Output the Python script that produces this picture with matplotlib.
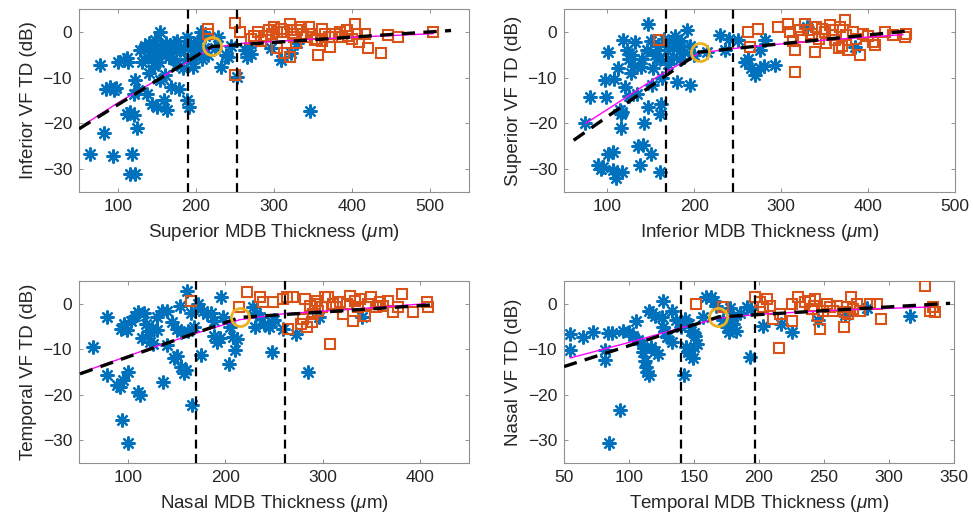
# plot.py
# Four scatter panels: VF total deviation against MDB thickness per sector.

import matplotlib
matplotlib.use('Agg')
import matplotlib.pyplot as plt

plt.rcParams['font.family'] = ['Liberation Sans', 'DejaVu Sans']
plt.rcParams['mathtext.fontset'] = 'custom'
plt.rcParams['mathtext.it'] = 'Liberation Sans:italic'

BLUE = '#0072BD'
ORANGE = '#D95319'
YELLOW = '#EDB120'
MAGENTA = '#FF00FF'
TEXT = '#262626'

# ---- panel 1: superior MDB vs inferior VF ----
p1_blue_x = [64, 77, 82, 85, 90, 95, 94, 98, 100, 108, 111, 113, 111, 116, 120, 118, 115, 122,
             124, 122, 120, 125, 131, 137, 135, 140, 145, 150, 143, 148, 154, 155, 160, 162,
             165, 168, 170, 144, 150, 159, 154, 163, 168, 178, 189, 191, 175, 180, 185, 188,
             192, 196, 198, 200, 203, 206, 208, 210, 212, 215, 224, 232, 238, 245, 253, 263,
             266, 270, 268, 296, 309, 322, 346, 330, 175, 183, 160, 140, 128, 138, 152, 146,
             189, 198, 172, 241, 228]
p1_blue_y = [-26.8, -7.3, -22, -12.4, -12, -12.8, -27.2, -12.2, -6.6, -6.2, -5.8, -6.6, -17.9,
             -17.5, -18.2, -26.6, -31, -31, -21, -10.6, -13.5, -12.8, -6.6, -13.5, -3, -2.5, -4,
             -5, -3.5, -1.8, 0, -3, -4.5, -2.5, -5.5, -3.5, -6, -15.7, -16.4, -15, -10.6, -17,
             -12, -12.4, -15, -16.4, -2, -4, -3.2, -6, -2.5, -7.6, -4, -5.5, -2, 0, -6, -3.5, -1,
             -5, -3.6, -7.6, -5, -3, -9.9, -4, -5.5, -4.8, -3.3, -3.6, -6.2, -4.7, -17.2, -2.5,
             -7, -8, -9.5, -9, -4, -5.5, -6.5, -7.5, -1.1, -3.3, -2.5, -5.5, -1.1]
p1_orange_x = [215, 216, 250, 256, 250, 280, 293, 298, 304, 309, 313, 320, 322, 324, 326, 330,
               335, 337, 341, 348, 352, 357, 361, 365, 370, 372, 378, 385, 387, 393, 404, 407,
               409, 417, 420, 437, 446, 459, 504, 304, 320, 313, 290, 300, 275, 283, 345, 328,
               355, 362, 395, 400, 270]
p1_orange_y = [0.7, -0.5, 2, 0, -9.5, 0, 0.4, -0.4, 0, 0.7, 0, 1.8, 0.4, -0.4, -1.1, 0.4, 1.1,
               -0.4, -1.1, -0.4, -1.8, -5.1, 0.7, -0.4, -1.1, -3.3, -0.4, 0, -1.1, 0.4, 1.8,
               -0.4, -2.2, -0.4, -3.6, -4.7, -0.7, -1.1, 0, -3.6, -5.5, -4.7, -1, 1, -0.8, -2,
               1, -2.5, -1.5, -2, -0.8, -1.5, -1.5]
p1_fit_x = [50, 220, 527]
p1_fit_y = [-21.2, -3.2, 0.3]
p1_curve_x = [59, 100, 150, 190, 220, 260, 350, 450, 504]
p1_curve_y = [-20, -15.5, -10.5, -6.5, -3.5, -2.5, -1.6, -0.8, -0.4]
p1_cut = [190, 252]
p1_knee = (221, -3)

# ---- panel 2: inferior MDB vs superior VF ----
p2_blue_x = [74, 80, 97, 98, 101, 89, 93, 95, 101, 106, 108, 106, 110, 114, 116, 117, 115, 117,
             118, 122, 125, 128, 130, 127, 132, 134, 135, 137, 138, 141, 142, 147, 147, 150,
             151, 160, 162, 160, 145, 150, 155, 158, 160, 165, 168, 170, 172, 175, 178, 180,
             183, 185, 188, 180, 195, 191, 195, 200, 215, 229.5, 235, 240, 250, 258, 262, 265,
             270, 276, 280, 293, 281, 276, 385, 330, 125, 120, 140, 112, 152, 163]
p2_blue_y = [-19.9, -14.2, -10.6, -14.2, -4.4, -29, -30, -29.5, -26.6, -26.3, -10.2, -30.3, -32,
             -17, -18, -17.5, -21, -30.7, -1.8, -4, -6, -5, -7.5, -9, -2.2, -13.5, -25, -29,
             -7.7, -24.8, -20, 1.8, -16.4, -26.6, -11.7, -17.9, -15.7, -30.7, -4, -2, -5, -3,
             -6, -1.5, -4, -7, -2.5, -5.5, -1, -3.5, -6, -2, -4.5, -11, -11.7, 0.4, -3, -5,
             -4.5, -0.7, -4, -1.5, -1.8, -6.6, -6, -8, -9.5, -8, -7.5, -7.3, -1.8, -4, -3.3, 1,
             -14, -12, -6, -8, -8, -10]
p2_orange_x = [159, 262, 273, 264, 296, 308, 310, 316, 316, 313, 327, 331, 335, 339, 343, 346.5,
               356, 358, 362, 366, 373, 375, 377, 383, 391, 394, 406, 408, 419, 429, 442, 444,
               320, 350, 340, 368, 386, 400, 323, 352, 370, 360]
p2_orange_y = [-1.8, 0, 0.7, -3.3, 1.1, 1.8, 0, -4, -8.8, -2, 1.8, 0.4, -0.4, -4.4, -1.5, 0.7,
               1.5, -0.7, -1.8, -3.6, 2.5, -0.7, -4, 0, -5.1, -0.4, -2.2, -2.9, 0, -0.7, -1.1,
               -0.4, 0.5, 0, 1, 1, -1.5, -1, -1.2, -2.5, -3, 0.5]
p2_fit_x = [61, 206, 446]
p2_fit_y = [-23.7, -4.4, 0.2]
p2_curve_x = [75, 120, 160, 206, 260, 350, 440]
p2_curve_y = [-20, -14.5, -9.5, -4.6, -3.3, -1.8, -0.6]
p2_cut = [167, 244]
p2_knee = (206, -4.4)

# ---- panel 3: nasal MDB vs temporal VF ----
p3_blue_x = [64.7, 78.4, 78.4, 88.7, 95.4, 92, 93, 99, 96, 93.8, 100.6, 100, 103, 107, 110, 110,
             113, 119, 122, 126, 123, 121, 125, 130, 135, 140, 136.5, 145, 150, 155, 147, 150,
             153.6, 160.5, 155, 158, 160, 165.6, 162, 168, 172, 177, 175, 181, 188, 188, 192,
             195, 196, 205, 203.5, 210.5, 208, 212, 228, 232, 236, 240, 245, 248, 250, 230.5,
             247.6, 259, 273, 285, 296, 340, 140, 130, 185, 198, 165, 117, 115]
p3_blue_y = [-9.4, -2.9, -15.7, -17.9, -16.8, -18.3, -5.5, -5.8, -4.5, -25.6, -30.7, -15, -3.7,
             -2.6, -1.8, -19.5, -20, -4.4, -6, -8.8, -8.3, -6.8, -5.3, -5.8, -1.5, -1.5, -17.2,
             -4, -5.5, -6.2, -12, -11.5, -0.4, 2.9, -14, -15.2, -14.5, -22.3, -6, -5, 0, -1.5,
             -11.3, -2.2, -3.7, -7, -8.4, -7.5, 1.5, -5.1, -13.2, -10.2, -7.3, -7.8, -0.7, -2,
             -3, -4.4, -5.1, -4, -3.5, -5.1, -10.6, -5.5, -6.6, -15, -2.9, -2.9, -9, -3, -2,
             -3, -2, -2, -7.5]
p3_orange_x = [165, 222, 214, 235.6, 239, 249, 259.5, 263, 264.7, 270, 278, 280, 282, 283.5, 287,
               288.7, 290, 292, 293.8, 295, 299, 302, 305.7, 307, 311, 314, 317.7, 321, 324.6,
               328, 331, 333, 336.5, 338, 343, 346.7, 350, 355, 358.7, 362, 367, 372, 377.5,
               381, 393, 406.6, 408]
p3_orange_y = [0.7, 2.6, -0.7, 1.5, 0.4, 0.4, 1.1, 1.5, -5.5, 1.5, -4.4, -3.3, 1.1, -5.1, -0.4,
               -4, -2.2, 0, 0.7, -1.5, -0.7, 1.5, 1.5, -8.8, 0, -0.7, 0.4, -2.2, 0, 1.8, -3.7,
               0.7, -0.7, 1.1, -2.6, 0, 1.5, -0.7, 0.4, -0.4, 0.7, -1.8, -0.7, 2.2, -1.8, 0.4,
               -0.7]
p3_fit_x = [51, 215, 415]
p3_fit_y = [-15.4, -3, -0.2]
p3_curve_x = [63, 120, 170, 215, 260, 330, 405]
p3_curve_y = [-14.3, -10, -6.5, -3.5, -2.2, -1.2, 0]
p3_cut = [170, 261]
p3_knee = (215, -3)

# ---- panel 4: temporal MDB vs nasal VF ----
p4_blue_x = [54.6, 54.6, 64.9, 72.6, 81.5, 81.5, 84, 87, 84.9, 93, 95.6, 100, 103, 107, 105, 110,
             111, 112, 113, 114, 115, 115, 118, 120, 117, 120, 122, 126, 126, 128, 129, 133,
             136, 133, 142, 144, 145, 147, 149, 150, 143, 146, 148, 151, 152, 150, 157, 159,
             163, 165, 167, 172, 175, 177, 176, 180, 178, 182, 185, 180, 191, 194, 193, 203,
             217, 225, 245, 266, 283, 316, 140, 125]
p4_blue_y = [-6.6, -10.1, -7.3, -6.2, -12.4, -10.2, -6.4, -6.4, -30.6, -23.3, -5.9, -6.2, -7, -8,
             -3.7, -8.8, -10.5, -12.5, -14, -15, -15.7, -1.5, -2, -2.6, -9.5, -10.3, -11, 0.7,
             -5.1, -6.2, -7.3, -1.5, -3.5, -8.5, -15.7, -9.5, -10.5, -11.3, -12, -9.5, -3.3,
             -4.5, -6, -7, -8.8, -6.5, -2.9, 1.5, 1.5, 0.7, -0.5, -3.5, -5, -6.2, -4, -4.5, -1,
             -6, -2, -3, -0.7, -1.1, -11.7, -4.8, -4.4, -6.2, -3.5, -2.5, -1, -2.6, -5, -3]
p4_orange_x = [151.5, 172.5, 197, 200.8, 203, 206, 208.5, 211, 215, 216, 225, 225, 230, 231.5,
               235, 239, 240.5, 242, 243, 245.6, 247, 249.5, 252, 254.6, 257, 259.8, 265, 266,
               267.5, 268.7, 271, 272.5, 275, 277.7, 285, 290.5, 294, 327.7, 331.5, 334, 335.4]
p4_orange_y = [0, -0.7, 1.5, 0.4, -0.7, 1.1, -0.4, -3.3, -9.7, -2.2, -3.7, 0, 1.5, -0.7, 0.4,
               0.7, -1.1, -0.4, 1.1, -2.6, -5.5, -1.5, 0, -0.7, -1.5, -0.4, -5.1, -1.8, -0.7,
               -2.2, 1.5, -1.1, 0, -1.5, 0, 0, -3.3, 4, -1.5, -0.7, -1.8]
p4_fit_x = [50, 168.7, 347]
p4_fit_y = [-13.8, -2.9, 0.1]
p4_curve_x = [55, 100, 140, 168.7, 200, 260, 331.5]
p4_curve_y = [-11.9, -8.5, -5.3, -3.2, -2.3, -1.4, -0.7]
p4_cut = [140, 197]
p4_knee = (168.7, -2.9)

panels = [
    dict(bx=p1_blue_x, by=p1_blue_y, ox=p1_orange_x, oy=p1_orange_y,
         fx=p1_fit_x, fy=p1_fit_y, cx=p1_curve_x, cy=p1_curve_y, cut=p1_cut, knee=p1_knee,
         xlim=(50, 550), xticks=[100, 200, 300, 400, 500],
         xlabel='Superior MDB Thickness ($\\mu$m)', ylabel='Inferior VF TD (dB)',
         rect=[0.0812, 0.6329, 0.4008, 0.3499]),
    dict(bx=p2_blue_x, by=p2_blue_y, ox=p2_orange_x, oy=p2_orange_y,
         fx=p2_fit_x, fy=p2_fit_y, cx=p2_curve_x, cy=p2_curve_y, cut=p2_cut, knee=p2_knee,
         xlim=(50, 500), xticks=[100, 200, 300, 400, 500],
         xlabel='Inferior MDB Thickness ($\\mu$m)', ylabel='Superior VF TD (dB)',
         rect=[0.5797, 0.6329, 0.4018, 0.3499]),
    dict(bx=p3_blue_x, by=p3_blue_y, ox=p3_orange_x, oy=p3_orange_y,
         fx=p3_fit_x, fy=p3_fit_y, cx=p3_curve_x, cy=p3_curve_y, cut=p3_cut, knee=p3_knee,
         xlim=(50, 450), xticks=[100, 200, 300, 400],
         xlabel='Nasal MDB Thickness ($\\mu$m)', ylabel='Temporal VF TD (dB)',
         rect=[0.0812, 0.1147, 0.4008, 0.3480]),
    dict(bx=p4_blue_x, by=p4_blue_y, ox=p4_orange_x, oy=p4_orange_y,
         fx=p4_fit_x, fy=p4_fit_y, cx=p4_curve_x, cy=p4_curve_y, cut=p4_cut, knee=p4_knee,
         xlim=(50, 350), xticks=[50, 100, 150, 200, 250, 300, 350],
         xlabel='Temporal MDB Thickness ($\\mu$m)', ylabel='Nasal VF TD (dB)',
         rect=[0.5797, 0.1147, 0.4008, 0.3480]),
]


def draw_panel(fig, p):
    # one MATLAB-looking scatter panel
    ax = fig.add_axes(p['rect'])
    ax.plot(p['bx'], p['by'], linestyle='none', marker=(8, 2, 0), markersize=10,
            markeredgewidth=1.6, color=BLUE, zorder=2)
    ax.plot(p['ox'], p['oy'], linestyle='none', marker='s', markersize=7.5,
            markerfacecolor='none', markeredgecolor=ORANGE, markeredgewidth=1.5, zorder=3)
    ax.plot(p['cx'], p['cy'], color=MAGENTA, linewidth=1.0, zorder=4)
    ax.plot(p['fx'], p['fy'], color='black', linewidth=2.4, linestyle=(0, (4, 2.5)), zorder=5)
    for c in p['cut']:
        ax.axvline(c, color='black', linewidth=1.6, linestyle=(0, (4, 2.5)), zorder=5)
    ax.plot([p['knee'][0]], [p['knee'][1]], linestyle='none', marker='o', markersize=13,
            markerfacecolor='none', markeredgecolor=YELLOW, markeredgewidth=2, zorder=6)

    ax.set_xlim(*p['xlim'])
    ax.set_ylim(-35, 5)
    ax.set_xticks(p['xticks'])
    ax.set_yticks([-30, -20, -10, 0])
    ax.tick_params(direction='in', length=3, width=0.6, colors='#808080',
                   labelcolor=TEXT, labelsize=12.5, top=True, right=True, pad=5)
    for spine in ax.spines.values():
        spine.set_color('#909090')
        spine.set_linewidth(0.8)
    ax.set_xlabel(p['xlabel'], fontsize=13.5, color=TEXT, labelpad=6)
    ax.set_ylabel(p['ylabel'], fontsize=13.5, color=TEXT, labelpad=4)
    return ax


fig = plt.figure(figsize=(9.73, 5.23), dpi=100)
for panel in panels:
    draw_panel(fig, panel)

fig.savefig('out.png', dpi=100)
plt.close(fig)
